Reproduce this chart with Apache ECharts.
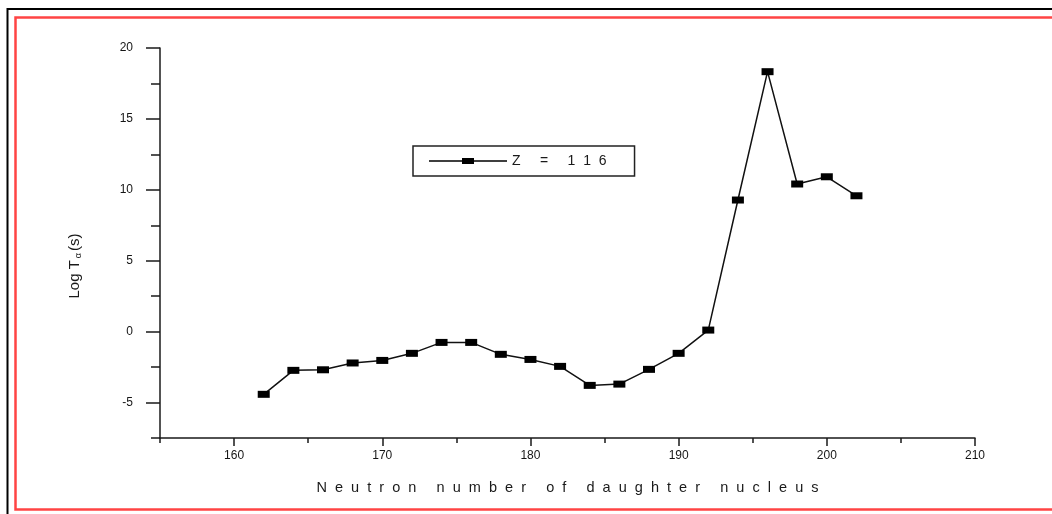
<!DOCTYPE html>
<html>
<head>
<meta charset="utf-8">
<script src="https://cdn.jsdelivr.net/npm/echarts@6/dist/echarts.min.js"></script>
<style>
html,body{margin:0;padding:0;background:#fff;}
#chart{width:1052px;height:514px;}
</style>
</head>
<body>
<div id="chart"></div>
<script>
// ---- data ----
var neutronNumbers = [162,164,166,168,170,172,174,176,178,180,182,184,186,188,190,192,194,196,198,200,202];
var logT = [-4.42,-2.73,-2.69,-2.21,-2.03,-1.53,-0.76,-0.76,-1.6,-1.96,-2.45,-3.79,-3.7,-2.66,-1.53,0.11,9.28,18.33,10.41,10.92,9.58];
var seriesName = 'Z = 116';
var xTitle = 'Neutron number of daughter nucleus';
var xRange = [155, 210];
var yRange = [-7.5, 20];
var xMajorStart = 160, xMajorStep = 10, xMinorStep = 5;
var yMajorStart = -5, yMajorStep = 5, yMinorStep = 2.5;

// ---- layout ----
var W = 1052, H = 514;
var G = {left:160, right:77, top:48, bottom:76};
var gw = W - G.left - G.right, gh = H - G.top - G.bottom;
var yPix = function(v){ return G.top + (yRange[1]-v)/(yRange[1]-yRange[0])*gh; };
var xPix = function(v){ return G.left + (v-xRange[0])/(xRange[1]-xRange[0])*gw; };

var FONT = 'Liberation Sans, Arial, sans-serif';
var INK = '#1a1a1a';

function spaced(s){
  return s.split(' ').map(function(w){ return w.split('').join('  '); }).join('     ');
}

var chart = echarts.init(document.getElementById('chart'), null, {renderer:'canvas'});
chart.setOption({
  animation:false,
  backgroundColor:'#fff',
  graphic:[
    {type:'rect', shape:{x:7.5,y:9,width:1200,height:700}, style:{fill:'none', stroke:'#000', lineWidth:2}, silent:true},
    {type:'rect', shape:{x:15.5,y:17.5,width:1200,height:492}, style:{fill:'none', stroke:'#ff4444', lineWidth:2.5}, silent:true}
  ],
  grid:[
    {left:G.left, right:G.right, top:G.top, bottom:G.bottom},
    {left:G.left, right:G.right, top:G.top, bottom:H - yPix(yMajorStart)},
    {left:xPix(xMajorStart), right:G.right, top:G.top, bottom:G.bottom}
  ],
  legend:{
    left:413, top:146,
    orient:'horizontal',
    data:[{name:seriesName, icon:'path://M0,2.3 L78,2.3 L78,3.7 L0,3.7 Z M33,0 L45,0 L45,6 L33,6 Z'}],
    itemWidth:78, itemHeight:6,
    padding:[8,28,8,16],
    borderColor:'#222', borderWidth:1.5,
    formatter:function(n){ return n.split('').join('  '); },
    textStyle:{fontFamily:FONT, fontSize:14, color:INK},
    itemStyle:{color:'#000'}
  },
  xAxis:[
    {gridIndex:0, type:'value', min:xRange[0], max:xRange[1], interval:xMinorStep,
     axisLine:{show:true, onZero:false, lineStyle:{color:INK, width:1.5}},
     axisTick:{show:true, length:5, lineStyle:{color:INK, width:1.5}},
     axisLabel:{show:false}, splitLine:{show:false},
     name:spaced(xTitle), nameLocation:'middle', nameGap:42,
     nameTextStyle:{fontFamily:FONT, fontSize:14.5, color:INK}},
    {gridIndex:1, type:'value', min:xRange[0], max:xRange[1], show:false},
    {gridIndex:2, type:'value', min:xMajorStart, max:xRange[1], interval:xMajorStep,
     axisLine:{show:false, onZero:false},
     axisTick:{show:true, length:8, lineStyle:{color:INK, width:1.5}},
     axisLabel:{show:true, margin:12, fontFamily:FONT, fontSize:12, color:'#151515'},
     splitLine:{show:false}}
  ],
  yAxis:[
    {gridIndex:0, type:'value', min:yRange[0], max:yRange[1], interval:yMinorStep,
     axisLine:{show:true, onZero:false, lineStyle:{color:INK, width:1.5}},
     axisTick:{show:true, length:9, lineStyle:{color:INK, width:1.5}},
     axisLabel:{show:false}, splitLine:{show:false},
     name:'Log T{sub|α}(s)', nameLocation:'middle', nameGap:77,
     nameTextStyle:{fontFamily:FONT, fontSize:15, color:INK, padding:[0,46,0,0],
       rich:{sub:{fontFamily:FONT, fontSize:9, color:INK, verticalAlign:'bottom', padding:[7,2,0,2]}}}},
    {gridIndex:1, type:'value', min:yMajorStart, max:yRange[1], interval:yMajorStep,
     axisLine:{show:false, onZero:false},
     axisTick:{show:true, length:14, lineStyle:{color:INK, width:1.5}},
     axisLabel:{show:true, margin:27, fontFamily:FONT, fontSize:12, color:'#151515'},
     splitLine:{show:false}},
    {gridIndex:2, type:'value', min:yRange[0], max:yRange[1], show:false}
  ],
  series:[{
    name:seriesName, type:'line', xAxisIndex:0, yAxisIndex:0,
    data:neutronNumbers.map(function(n,i){ return [n, logT[i]]; }),
    symbol:'rect', symbolSize:[12,7],
    lineStyle:{color:'#111', width:1.5},
    itemStyle:{color:'#000'}
  }]
});
</script>
</body>
</html>
